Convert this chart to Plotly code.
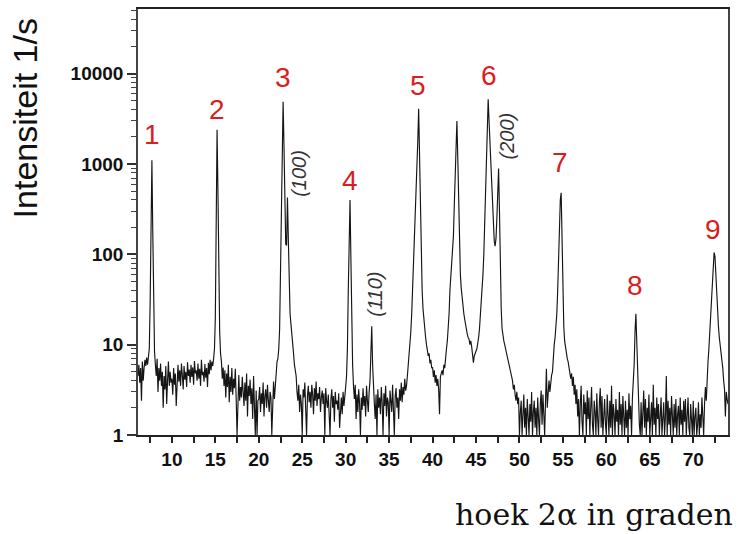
import numpy as np
import plotly.graph_objects as go

# scan angle 2-alpha (degrees), 0.1 degree steps from 6.0 to 74.0
angle = np.round(np.arange(6.0, 74.05, 0.1), 1)

# intensity (counts per second), one row per degree (k.0 ... k.9)
intensity = [
    5, 4.5, 6, 3.8, 5.5, 2.4, 6.5, 4, 5.5, 6.8,            # 6
    5.8, 7.2, 6, 8.5, 9, 30, 250, 1100, 180, 20,           # 7
    8.5, 6, 4.5, 7, 3, 5.5, 4, 6.2, 3.5, 5,                # 8
    2, 4.5, 3.2, 5.8, 2.2, 4, 6.5, 3.5, 5, 3.8,            # 9
    4.2, 2.8, 5.5, 3.6, 4.8, 2.1, 4.4, 6, 3.9, 5.2,        # 10
    3.5, 6.2, 4.6, 3.2, 5.8, 4.1, 5, 3.4, 6.4, 4.5,        # 11
    5.3, 3.8, 6, 4.4, 5.6, 3.6, 6.6, 4.8, 5.2, 4,          # 12
    6.2, 4.2, 5.4, 3.5, 6.8, 4.6, 5, 3.9, 6.1, 4.3,        # 13
    5.5, 3.4, 6.3, 4.7, 6.8, 5.2, 6.5, 5.8, 7, 9,          # 14
    20, 250, 2400, 500, 50, 14, 8, 6.5, 4.2, 5.6,          # 15
    3.5, 5.2, 2.6, 4.8, 3.4, 6, 2.3, 4.4, 3, 5.5,          # 16
    2.8, 4.2, 3.3, 5.4, 2.5, 1, 2.1, 4.6, 2.4, 3.4,        # 17
    2.6, 4.4, 3, 2.1, 3.8, 2.4, 4.8, 1.6, 3.5, 2.7,        # 18
    4.1, 2.2, 3.3, 1.5, 4.5, 2.6, 1, 3.1, 1, 2.4,          # 19
    2.5, 3.4, 1.8, 2.9, 2.2, 3.8, 1.6, 2.7, 3.2, 2,        # 20
    3.6, 2.4, 1.8, 3, 2.6, 1, 2.2, 3.9, 2.5, 3.3,          # 21
    5.5, 6.5, 7, 9, 15, 50, 250, 1400, 4900, 1600,         # 22
    300, 130, 125, 425, 150, 35, 22, 17, 12, 10,           # 23
    8, 6, 5, 4.5, 3, 2.4, 3.6, 1.8, 2.8, 2.2,              # 24
    1, 3.2, 2.6, 3.8, 1.9, 1, 2.7, 3.5, 2.3, 3,            # 25
    2, 3.6, 2.8, 1.7, 3.3, 2.4, 3.9, 2.1, 2.9, 2.5,        # 26
    3.4, 1.8, 2.6, 3.1, 2.2, 2.9, 1, 3.3, 2.4, 2,          # 27
    2.8, 1.5, 1, 2.5, 3.2, 2, 2.7, 1.4, 3, 2.2,            # 28
    2.4, 1.9, 2.9, 1.2, 2.2, 2.6, 1.7, 3, 2.1, 2.5,        # 29
    3.4, 4.5, 9, 40, 160, 400, 90, 18, 6, 3.5,             # 30
    2.5, 3.6, 1.5, 2.8, 1.8, 3.2, 2.2, 1, 2.6, 1.9,        # 31
    3.3, 2.1, 2.7, 1.6, 3.5, 2.4, 1.8, 3, 4, 8,            # 32
    16, 6, 3, 2.2, 1.5, 2.8, 1, 3.2, 2, 2.6,               # 33
    1.7, 3.4, 2.3, 1, 2.9, 2.1, 3.5, 1.6, 2.6, 2.3,        # 34
    1, 3.1, 2.4, 1.8, 3.6, 2.2, 1, 2.7, 3.3, 2,            # 35
    2.6, 1.5, 3.2, 2.4, 3.8, 2.3, 3.4, 2.8, 4.2, 3.1,      # 36
    3.5, 4.5, 6, 7.5, 9, 14, 22, 40, 80, 160,              # 37
    220, 350, 700, 1800, 4100, 1400, 250, 70, 40, 25,      # 38
    18, 15, 12, 10, 8.5, 7.5, 8, 6.2, 6.8, 5.5,            # 39
    5.6, 4.4, 5.2, 3.8, 4.6, 3.5, 4.2, 3.2, 1.7, 4.4,      # 40
    4.8, 5.2, 4.6, 6, 5.5, 8, 9, 11, 15, 22,               # 41
    40, 55, 70, 100, 160, 350, 900, 2600, 3000, 1200,      # 42
    300, 90, 60, 42, 32, 26, 22, 19, 16, 14,               # 43
    13, 12, 11.5, 10, 11, 9.5, 8, 6.3, 7.5, 8.2,           # 44
    8.5, 9, 10, 12, 15, 20, 28, 40, 60, 100,               # 45
    200, 400, 900, 2500, 5200, 3000, 1800, 900, 500, 300,  # 46
    200, 140, 123, 150, 250, 500, 890, 300, 70, 25,        # 47
    15, 12, 11, 10, 9, 8.5, 8, 7, 6, 5.5,                  # 48
    5, 4.5, 4, 3.2, 3.6, 2.8, 2.4, 3, 2.2, 2.6,            # 49
    1, 1.8, 2.4, 1, 1.5, 2.8, 1.2, 2, 1, 2.5,              # 50
    1.6, 1, 2.2, 1.4, 3, 1, 1.8, 2.4, 1.2, 2,              # 51
    1, 2.6, 1.5, 1, 2.2, 3.1, 1.3, 2.8, 1.7, 1,            # 52
    2.4, 5.4, 2, 3.2, 4, 3, 4.2, 4.6, 5, 8,                # 53
    10, 12, 15, 22, 40, 90, 220, 400, 480, 150,            # 54
    40, 16, 11, 9, 8, 7, 6.5, 5.6, 5, 4.2,                 # 55
    4.8, 3.5, 4.4, 2.8, 3.6, 2.2, 3.2, 1.6, 2.5, 1,        # 56
    2.2, 3.5, 1.4, 1, 2.8, 1.7, 2.3, 1, 3.1, 1.5,          # 57
    2.6, 1, 2, 3.4, 1.3, 1, 2.4, 1.8, 1, 2.9,              # 58
    1.5, 1, 2.3, 3.3, 1.2, 2.7, 1, 1.8, 2.5, 1.3,          # 59
    1, 2.8, 1.6, 1, 2.4, 1.2, 3.5, 1, 2.2, 1.7,            # 60
    1, 2.5, 1.4, 1.9, 1, 3, 1.3, 2.2, 1, 2.7,              # 61
    1.6, 1, 2.4, 1.2, 1.9, 1, 2.9, 1.5, 2.1, 1,            # 62
    2.6, 3.7, 6, 14, 22, 11, 4.8, 2.5, 1.3, 1,             # 63
    2.3, 1, 1.7, 3.1, 1.2, 2.5, 1, 2, 1.4, 2.8,            # 64
    1, 1.6, 2.3, 1, 3.6, 1.3, 2, 1, 2.6, 1.5,              # 65
    2.2, 1, 1.8, 2.6, 1, 1.4, 2.3, 1, 1.6, 4.5,            # 66
    1, 2.4, 1.3, 2, 1, 2.7, 1.5, 1, 2.2, 1.2,              # 67
    2.5, 1, 1.7, 2.1, 1, 2.6, 1.3, 1.9, 1, 2.4,            # 68
    1.4, 2.5, 1, 1.8, 2.6, 1.2, 1, 2.2, 1.5, 1,            # 69
    2.4, 1, 1.6, 2, 1, 1.3, 2.3, 1, 1.7, 1.2,              # 70
    2.6, 1.4, 1, 2.2, 3.4, 2.4, 4.8, 6.5, 9, 14,           # 71
    20, 28, 50, 85, 105, 95, 55, 30, 22, 16,               # 72
    12, 10, 9, 7, 5.5, 4, 3.2, 1.6, 3, 2.5,                # 73
    2.2,                                                   # 74
]

# numbered peak labels
peak_labels = ["1", "2", "3", "4", "5", "6", "7", "8", "9"]
peak_label_x = [7.71, 15.18, 22.77, 30.47, 38.28, 46.45, 54.72, 63.34, 72.31]
peak_label_logy = [3.33, 3.60, 3.96, 2.82, 3.87, 3.98, 3.02, 1.66, 2.28]

# Miller index labels
hkl_labels = ["(100)", "(110)", "(200)"]
hkl_x = [24.6, 33.34, 48.51]
hkl_logy = [2.90, 1.56, 3.31]

x_ticks = [10, 15, 20, 25, 30, 35, 40, 45, 50, 55, 60, 65, 70]
y_ticks = [1, 10, 100, 1000, 10000]

fig = go.Figure()
fig.add_trace(go.Scatter(
    x=angle, y=intensity, mode="lines",
    line=dict(color="#151515", width=1.15),
    showlegend=False, hoverinfo="skip",
))

annotations = []
for t, x, y in zip(peak_labels, peak_label_x, peak_label_logy):
    annotations.append(dict(
        x=x, y=y, xref="x", yref="y", text=t, showarrow=False,
        font=dict(family="Liberation Sans, Arial", size=28, color="#d81e1e"),
        xanchor="center", yanchor="middle",
    ))
for t, x, y in zip(hkl_labels, hkl_x, hkl_logy):
    annotations.append(dict(
        x=x, y=y, xref="x", yref="y", text="<i>" + t + "</i>", showarrow=False,
        textangle=-90,
        font=dict(family="Liberation Sans, Arial", size=20, color="#333333"),
        xanchor="center", yanchor="middle",
    ))
annotations.append(dict(
    x=-0.19, y=0.743, xref="paper", yref="paper", text="Intensiteit 1/s",
    showarrow=False, textangle=-90,
    font=dict(family="Liberation Sans, Arial", size=34, color="#111111"),
    xanchor="center", yanchor="middle",
))
annotations.append(dict(
    x=1.012, y=-0.187, xref="paper", yref="paper", text="hoek 2α in graden",
    showarrow=False,
    font=dict(family="DejaVu Serif", size=30, color="#111111"),
    xanchor="right", yanchor="middle",
))

fig.update_layout(
    width=742, height=534,
    margin=dict(l=138, r=14, t=7, b=99),
    paper_bgcolor="white", plot_bgcolor="white",
    annotations=annotations,
    xaxis=dict(
        range=[6.1, 74.0], tickvals=x_ticks, ticks="outside", ticklen=6,
        tickwidth=1.5, tickcolor="#222", showgrid=False, zeroline=False,
        showline=True, linecolor="#222", linewidth=2, mirror=True,
        tickfont=dict(family="Liberation Sans, Arial", size=19, color="#111", weight="bold"),
        minor=dict(dtick=5, tick0=7.5, ticks="outside", ticklen=6, tickcolor="#222", tickwidth=1.5),
    ),
    yaxis=dict(
        type="log", range=[0, 4.716], tickvals=y_ticks, ticktext=[str(v) for v in y_ticks],
        ticks="outside", ticklen=9, tickwidth=1.5, tickcolor="#333",
        showgrid=False, zeroline=False,
        showline=True, linecolor="#444", linewidth=1.5, mirror=True,
        tickfont=dict(family="Liberation Sans, Arial", size=19, color="#111", weight="bold"),
        minor=dict(dtick="D1", ticks="outside", ticklen=5, tickcolor="#444", tickwidth=1),
    ),
)

fig.write_html(
    "out.html",
    config={"displayModeBar": False},
    post_script="document.body.style.margin='0';document.body.style.padding='0';",
)
